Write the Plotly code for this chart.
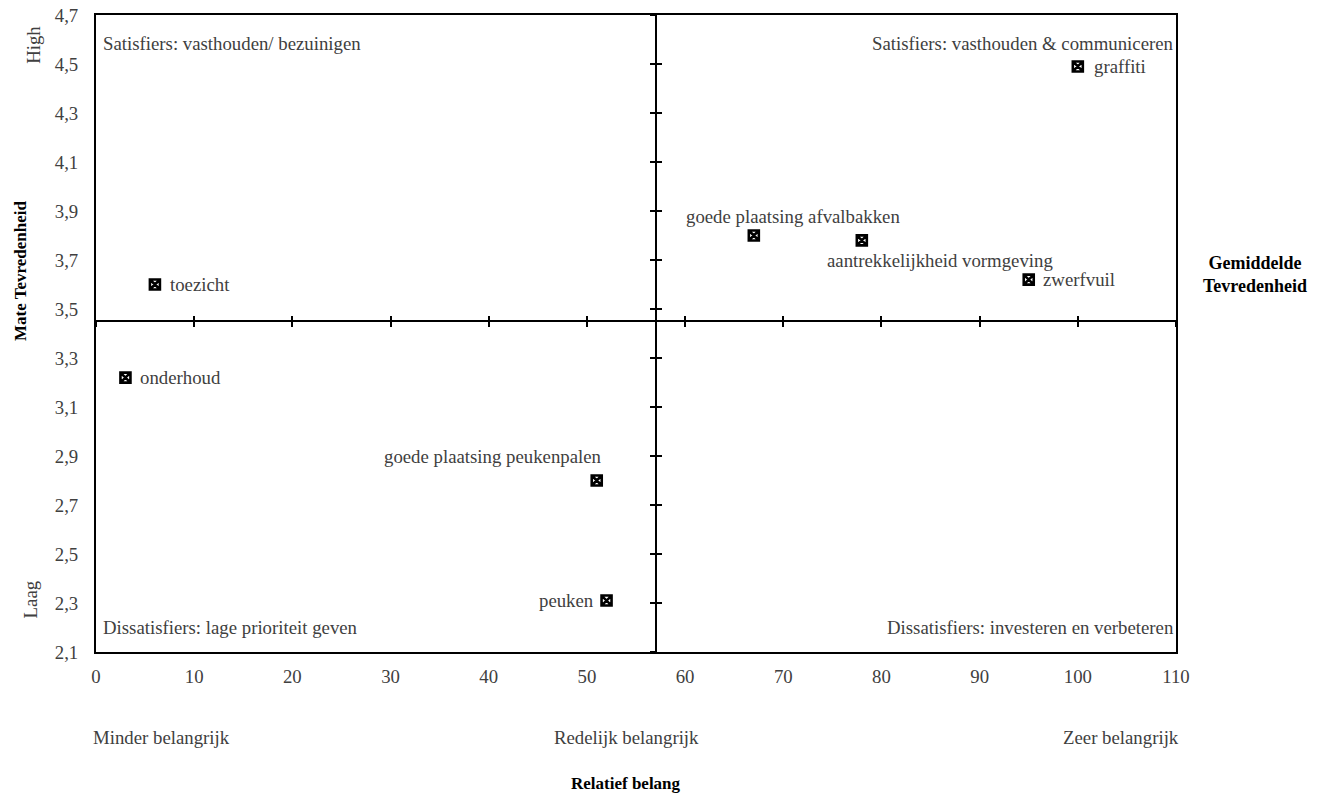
import plotly.graph_objects as go

# ---- data ----
items = ["graffiti", "goede plaatsing afvalbakken", "aantrekkelijkheid vormgeving", "zwerfvuil",
         "toezicht", "onderhoud", "goede plaatsing peukenpalen", "peuken"]
belang = [100, 67, 78, 95, 6, 3, 51, 52]
tevredenheid = [4.49, 3.80, 3.78, 3.62, 3.60, 3.22, 2.80, 2.31]

x_cross = 57          # Relatief belang (midden)
y_cross = 3.45        # Gemiddelde tevredenheid
x_range = [0, 110]
y_range = [2.1, 4.7]
x_ticks = list(range(0, 111, 10))
y_ticks = [2.1, 2.3, 2.5, 2.7, 2.9, 3.1, 3.3, 3.5, 3.7, 3.9, 4.1, 4.3, 4.5, 4.7]

quadrant_labels = ["Satisfiers: vasthouden/ bezuinigen", "Satisfiers: vasthouden & communiceren",
                   "Dissatisfiers: lage prioriteit geven", "Dissatisfiers: investeren en verbeteren"]
importance_labels = ["Minder belangrijk", "Redelijk belangrijk", "Zeer belangrijk"]

# ---- label styles (anchor, xshift, yshift) ----
label_style = {
    "graffiti": ("left", 14, 0),
    "goede plaatsing afvalbakken": ("center", 39, 19),
    "aantrekkelijkheid vormgeving": ("center", 78, -20),
    "zwerfvuil": ("left", 12, 0),
    "toezicht": ("left", 13, 0),
    "onderhoud": ("left", 13, 0),
    "goede plaatsing peukenpalen": ("right", 7, 24),
    "peuken": ("right", -11, 0),
}

FONT = "Liberation Serif, Times New Roman, serif"
TXT = "#404040"
FS = 18.8

fig = go.Figure()
fig.add_trace(go.Scatter(
    x=belang, y=tevredenheid, mode="markers",
    marker=dict(symbol="square-x", size=10, color="white", line=dict(color="black", width=2.6)),
    showlegend=False, hoverinfo="skip"))
# helper traces for the crossing axes
for xa, ya in [("x2", "y"), ("x3", "y"), ("x", "y2"), ("x", "y3")]:
    fig.add_trace(go.Scatter(x=[None], y=[None], xaxis=xa, yaxis=ya, showlegend=False, hoverinfo="skip"))

ann = []
for name, xv, yv in zip(items, belang, tevredenheid):
    anc, xs, ys = label_style[name]
    ann.append(dict(x=xv, y=yv, xref="x", yref="y", text=name, showarrow=False,
                    xanchor=anc, yanchor="middle", xshift=xs, yshift=ys,
                    font=dict(family=FONT, size=FS, color=TXT)))

qpos = [(0.005, 0.956, "left"), (1.0, 0.956, "right"), (0.005, 0.038, "left"), (1.0, 0.038, "right")]
for t, (px, py, anc) in zip(quadrant_labels, qpos):
    ann.append(dict(x=px, y=py, xref="paper", yref="paper", text=t, showarrow=False,
                    xanchor=anc, yanchor="middle", font=dict(family=FONT, size=FS, color=TXT)))

for t, px in zip(importance_labels, [0.061, 0.491, 0.949]):
    ann.append(dict(x=px, y=-0.135, xref="paper", yref="paper", text=t, showarrow=False,
                    xanchor="center", yanchor="middle", font=dict(family=FONT, size=FS, color=TXT)))

ann.append(dict(x=0.491, y=-0.207, xref="paper", yref="paper", text="<b>Relatief belang</b>",
                showarrow=False, xanchor="center", yanchor="middle",
                font=dict(family=FONT, size=17, color="black")))
ann.append(dict(x=1.073, y=0.592, xref="paper", yref="paper", text="<b>Gemiddelde<br>Tevredenheid</b>",
                showarrow=False, xanchor="center", yanchor="middle",
                font=dict(family=FONT, size=18, color="black")))
ann.append(dict(x=-0.0705, y=0.598, xref="paper", yref="paper", text="<b>Mate Tevredenheid</b>",
                showarrow=False, xanchor="center", yanchor="middle", textangle=-90,
                font=dict(family=FONT, size=17, color="black")))
ann.append(dict(x=-0.0575, y=0.953, xref="paper", yref="paper", text="High",
                showarrow=False, xanchor="center", yanchor="middle", textangle=-90,
                font=dict(family=FONT, size=FS, color=TXT)))
ann.append(dict(x=-0.0605, y=0.082, xref="paper", yref="paper", text="Laag",
                showarrow=False, xanchor="center", yanchor="middle", textangle=-90,
                font=dict(family=FONT, size=FS, color=TXT)))

ypos = (y_cross - y_range[0]) / (y_range[1] - y_range[0])
xpos = (x_cross - x_range[0]) / (x_range[1] - x_range[0])

common_x = dict(range=x_range, tickvals=x_ticks, showgrid=False, zeroline=False, automargin=False)
common_y = dict(range=y_range, tickvals=y_ticks, showgrid=False, zeroline=False, automargin=False)

fig.update_layout(
    width=1324, height=793,
    margin=dict(l=96, r=148, t=15, b=141),
    paper_bgcolor="white", plot_bgcolor="white",
    separators=",.",
    font=dict(family=FONT, size=FS, color=TXT),
    xaxis=dict(**common_x, showline=True, mirror=True, linecolor="black", linewidth=2,
               ticks="", tickformat="d", ticklabelstandoff=6,
               tickfont=dict(family=FONT, size=FS, color=TXT)),
    yaxis=dict(**common_y, showline=True, mirror=True, linecolor="black", linewidth=2,
               ticks="", tickformat=".1f", ticklabelstandoff=12,
               tickfont=dict(family=FONT, size=FS, color=TXT)),
    xaxis2=dict(**common_x, overlaying="x", anchor="free", position=ypos, side="bottom",
                showline=True, linecolor="black", linewidth=2, ticks="outside", ticklen=5,
                tickwidth=2, tickcolor="black", showticklabels=False),
    xaxis3=dict(**common_x, overlaying="x", anchor="free", position=ypos, side="bottom",
                showline=False, ticks="inside", ticklen=5, tickwidth=2, tickcolor="black",
                showticklabels=False),
    yaxis2=dict(**common_y, overlaying="y", anchor="free", position=xpos, side="left",
                showline=True, linecolor="black", linewidth=2, ticks="outside", ticklen=5,
                tickwidth=2, tickcolor="black", showticklabels=False),
    yaxis3=dict(**common_y, overlaying="y", anchor="free", position=xpos, side="left",
                showline=False, ticks="inside", ticklen=5, tickwidth=2, tickcolor="black",
                showticklabels=False),
    annotations=ann,
)

fig.write_html("out.html", config={"displayModeBar": False},
               post_script="document.body.style.margin='0';document.body.style.overflow='hidden';")
